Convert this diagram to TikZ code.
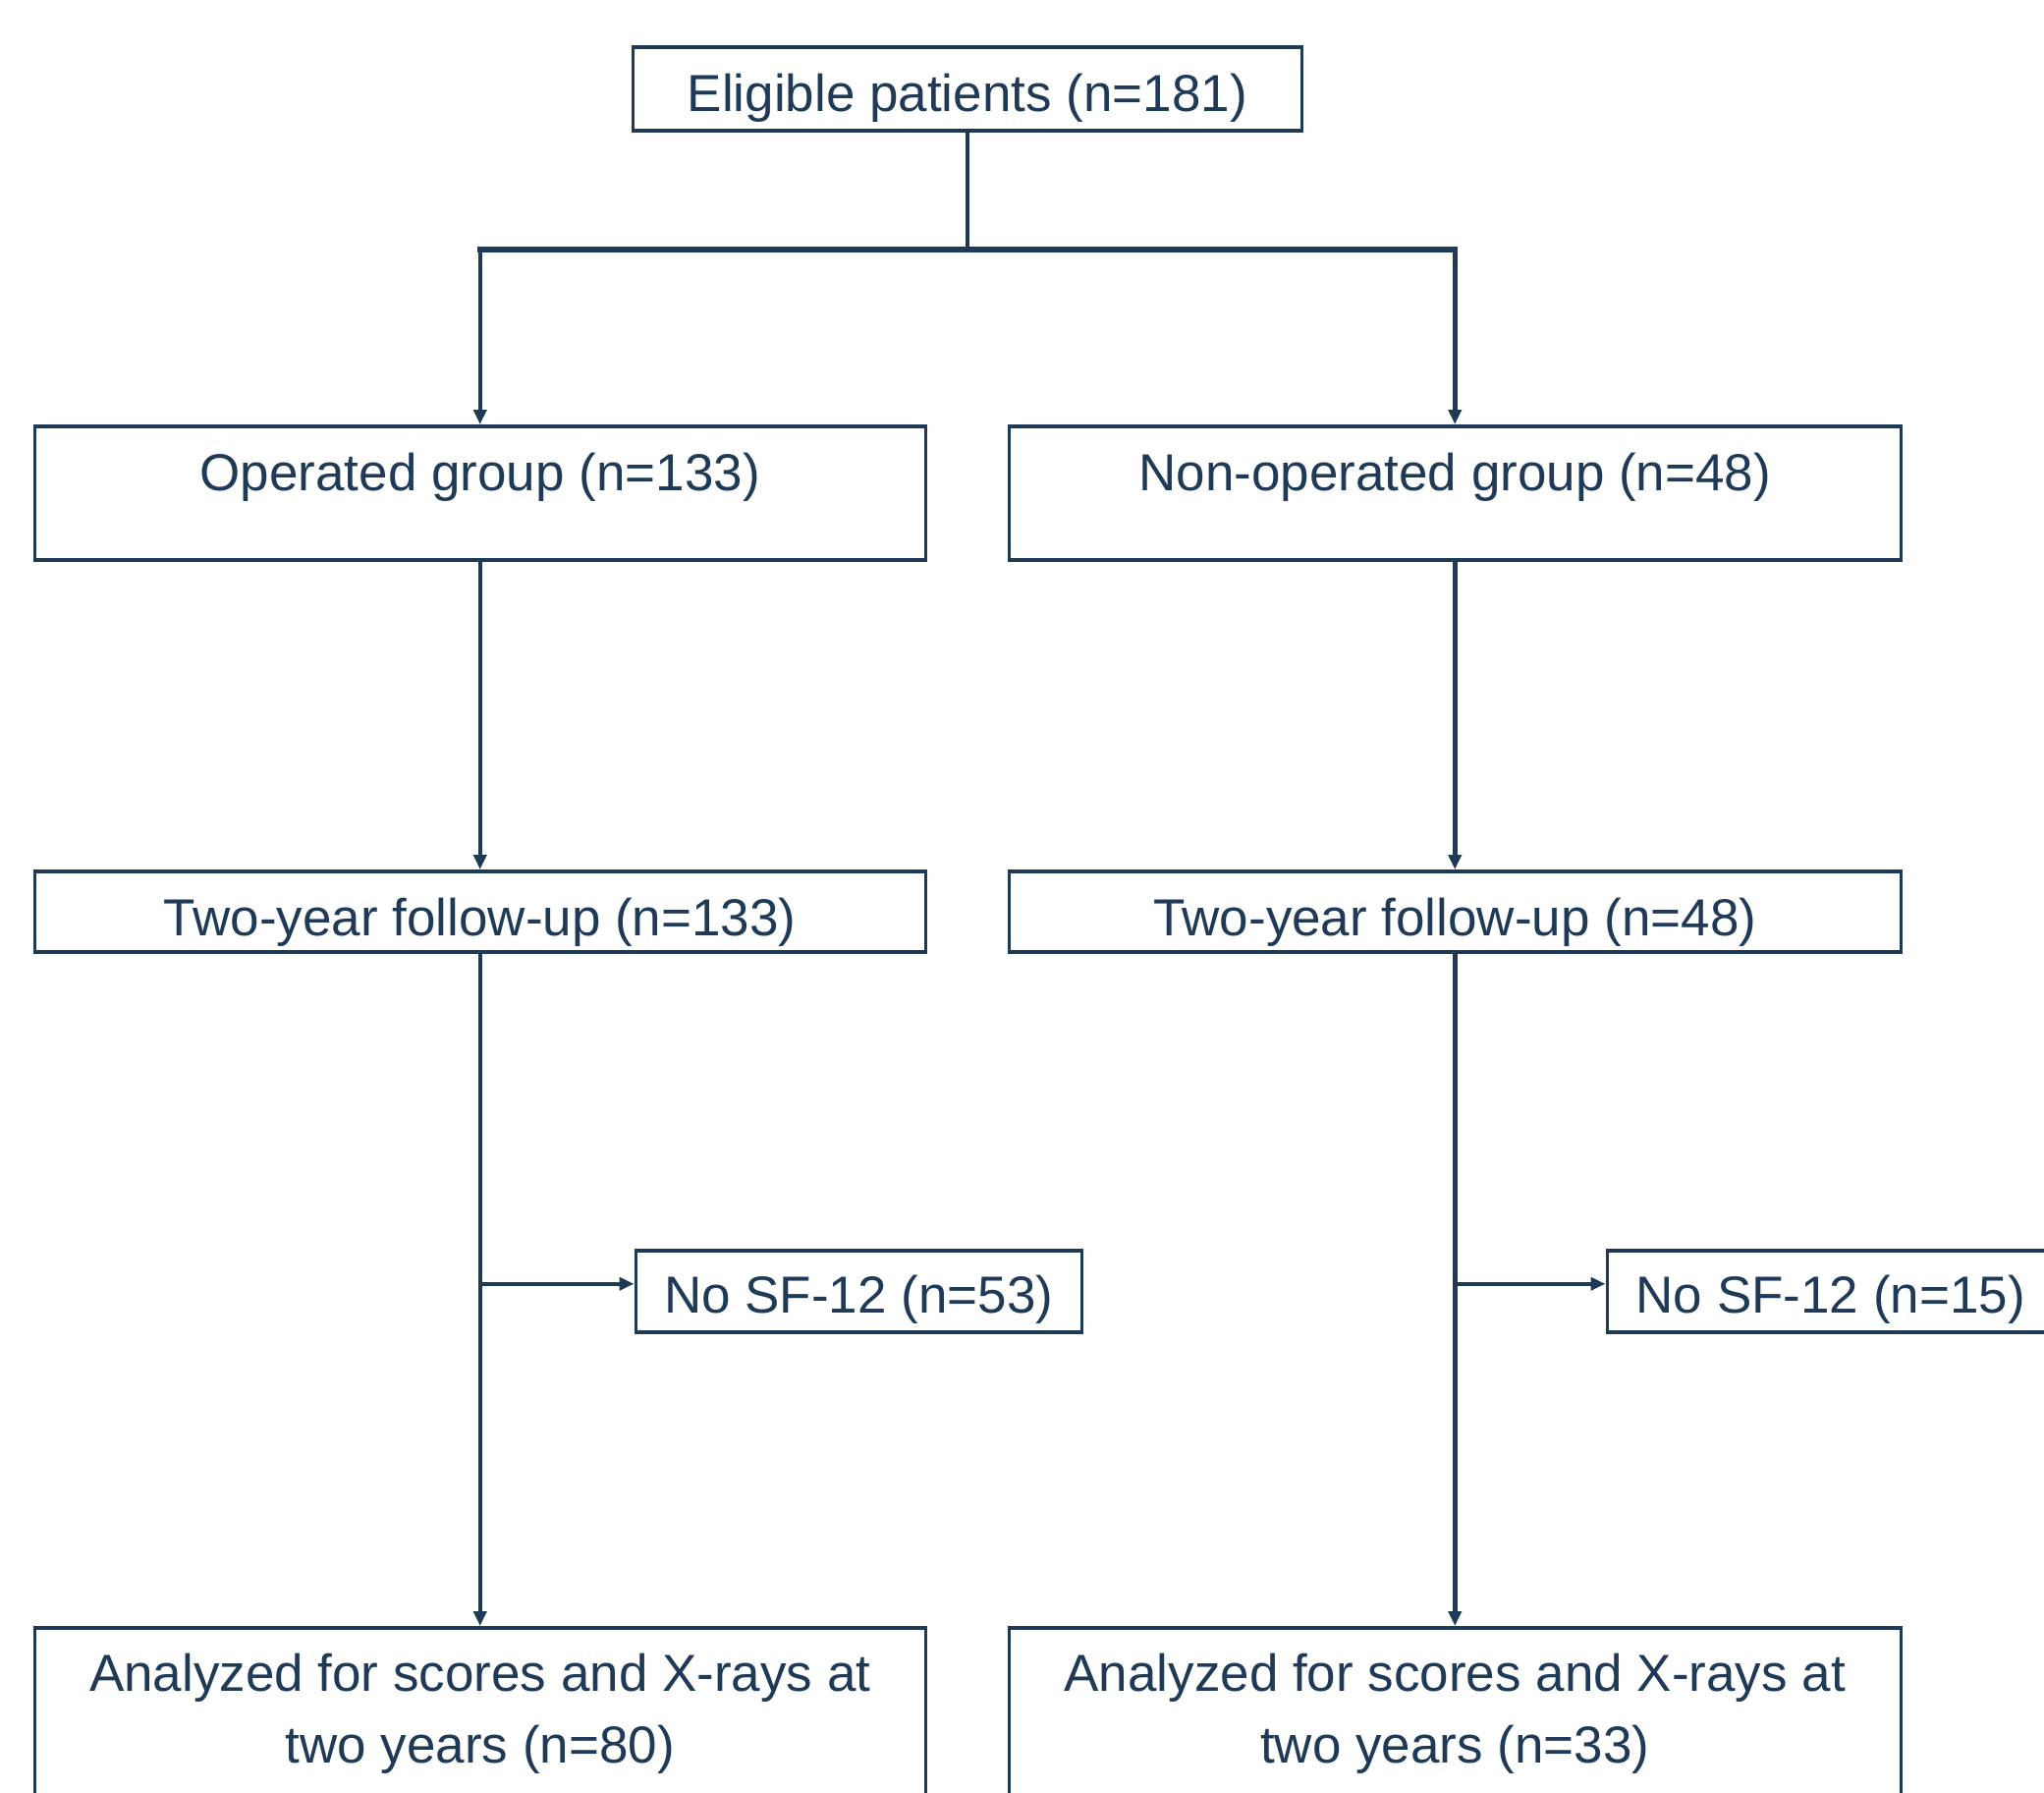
\documentclass[tikz,border=0pt]{standalone}
\usepackage{fontspec}
\setmainfont{Liberation Sans}
\usetikzlibrary{arrows.meta}
\definecolor{navy}{RGB}{31,58,87}
\newcommand{\twolines}[2]{\vtop{\halign{\hfil##\hfil\cr #1\cr #2\cr}}}
\begin{document}
\begin{tikzpicture}[x=1pt,y=-1pt,
  box/.style={draw=navy, line width=3.5pt, inner sep=0pt, anchor=north west,
    text=navy, font=\fontsize{53}{73}\selectfont},
  conn/.style={draw=navy, line width=4.5pt},
  arr/.style={conn, -{Triangle[length=15pt,width=13pt]}}]
\useasboundingbox (1.5,2) rectangle (2082.5,1826);

\node[box, minimum width=681pt, text height=66pt, text depth=19pt] (top) at (644,48) {Eligible patients (n=181)};

\node[box, minimum width=907pt, text height=66pt, text depth=70pt] (op) at (35,434) {Operated group (n=133)};
\node[box, minimum width=908pt, text height=66pt, text depth=70pt] (non) at (1027,434) {Non-operated group (n=48)};

\node[box, minimum width=907pt, text height=66pt, text depth=16pt] (fuL) at (35,887) {Two-year follow-up (n=133)};
\node[box, minimum width=908pt, text height=66pt, text depth=16pt] (fuR) at (1027,887) {Two-year follow-up (n=48)};

\node[box, minimum width=454pt, text height=64pt, text depth=19pt] (sfL) at (647,1273) {No SF-12 (n=53)};
\node[box, minimum width=455pt, text height=64pt, text depth=19pt] (sfR) at (1636,1273) {No SF-12 (n=15)};

\node[box, minimum width=907pt, text height=65pt, text depth=150pt] (anL) at (35,1657) {\twolines{Analyzed for scores and X-rays at}{two years (n=80)}};
\node[box, minimum width=908pt, text height=65pt, text depth=150pt] (anR) at (1027,1657) {\twolines{Analyzed for scores and X-rays at}{two years (n=33)}};

\coordinate (split) at (985,256);
\draw[conn] (top.south) -- (top.south |- split);
\draw[conn, line width=5.5pt, line cap=rect] (split -| op.north) -- (split -| non.north);
\draw[arr] (split -| op.north) -- (op.north);
\draw[arr] (split -| non.north) -- (non.north);
\draw[arr] (op.south) -- (fuL.north);
\draw[arr] (non.south) -- (fuR.north);
\draw[arr] (fuL.south) -- (anL.north);
\draw[arr] (fuR.south) -- (anR.north);
\draw[arr] ([yshift=7.5pt]sfL.west -| fuL.south) -- ([yshift=7.5pt]sfL.west);
\draw[arr] ([yshift=7.5pt]sfR.west -| fuR.south) -- ([yshift=7.5pt]sfR.west);
\end{tikzpicture}
\end{document}
